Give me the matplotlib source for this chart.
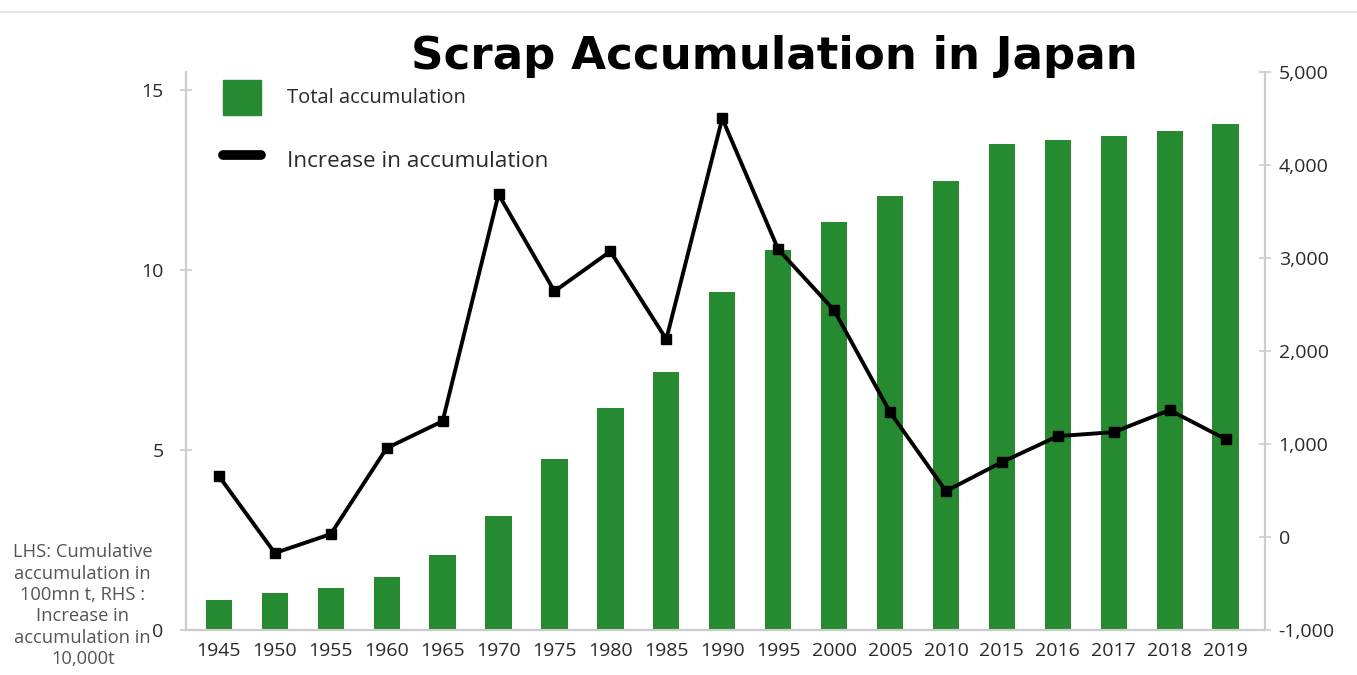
import matplotlib.pyplot as plt
import numpy as np
from matplotlib.lines import Line2D

# DATA
years = ["1945", "1950", "1955", "1960", "1965", "1970", "1975", "1980", "1985", "1990",
         "1995", "2000", "2005", "2010", "2015", "2016", "2017", "2018", "2019"]
total_accum = [0.83, 1.03, 1.17, 1.47, 2.08, 3.17, 4.75, 6.17, 7.17, 9.39,
               10.56, 11.33, 12.06, 12.47, 13.5, 13.61, 13.72, 13.86, 14.06]
increase_accum = [656, -172, 32, 957, 1247, 3688, 2645, 3075, 2129, 4505,
                  3097, 2441, 1344, 495, 806, 1086, 1129, 1366, 1054]
left_ticks = [0, 5, 10, 15]
right_ticks = [-1000, 0, 1000, 2000, 3000, 4000, 5000]

GREEN = "#268a30"
GRID = "#cccccc"
TXT = "#2a2a2a"
FONT = "Open Sans"

fig = plt.figure(figsize=(13.57, 6.75), dpi=100)
ax = fig.add_axes([0.137, 0.0667, 0.795, 0.826])
ax2 = ax.twinx()

x = np.arange(len(years))

#BARS ON LEFT AXIS
ax.bar(x, total_accum, width=0.47, color=GREEN, label="Total accumulation")
ax.set_ylim(0, 15.5)
ax.set_xlim(-0.59, len(years) - 0.3)
ax.set_yticks(left_ticks)
ax.set_yticklabels([str(t) for t in left_ticks])
ax.set_xticks(x)
ax.set_xticklabels(years)

#LINE ON RIGHT AXIS
ax2.plot(x, increase_accum, color="black", lw=2.8, marker="s", markersize=7,
         label="Increase in accumulation")
ax2.set_ylim(-1000, 5000)
ax2.set_yticks(right_ticks)
ax2.set_yticklabels([f"{t:,}" for t in right_ticks])

for a in (ax, ax2):
    for s in a.spines.values():
        s.set_color(GRID)
        s.set_linewidth(1.5)
    a.spines["top"].set_visible(False)
    a.tick_params(axis="y", direction="inout", length=8, color=GRID, width=1.2,
                  labelcolor=TXT, labelsize=14)
    for lab in a.get_yticklabels():
        lab.set_fontfamily(FONT)
ax.tick_params(axis="x", length=0, labelcolor=TXT, labelsize=14, pad=9)
for lab in ax.get_xticklabels():
    lab.set_fontfamily(FONT)
ax.tick_params(axis="y", pad=12)
ax2.tick_params(axis="y", pad=6)

#LEGEND
handles = [plt.Rectangle((0, 0), 1, 1, color=GREEN),
           Line2D([0], [0], color="black", lw=7, solid_capstyle="round")]
leg = ax.legend(handles, ["Total accumulation", "Increase in accumulation"],
                loc="upper left", bbox_to_anchor=(0.164, 0.882), bbox_transform=fig.transFigure,
                frameon=False, prop={"family": FONT, "size": 14.5},
                handlelength=1.9, handleheight=2.3, handletextpad=1.3,
                labelspacing=1.4, borderaxespad=0, borderpad=0)
leg.get_texts()[0].set_fontsize(14.5)
leg.get_texts()[1].set_fontsize(16.2)
for t in leg.get_texts():
    t.set_color(TXT)

#TITLE
fig.text(0.571, 0.917, "Scrap Accumulation in Japan", ha="center", va="center",
         fontsize=32.5, fontweight="bold", family="DejaVu Sans", color="black")

#TOP RULE
fig.add_artist(Line2D([0, 1], [0.982, 0.982], transform=fig.transFigure, color="#dddddd", lw=1.2))

#NOTE
fig.text(0.061, 0.195, "LHS: Cumulative\naccumulation in\n100mn t, RHS :\nIncrease in\naccumulation in\n10,000t",
         ha="center", va="top", fontsize=13.2, family=FONT, color="#555555", linespacing=1.24)

fig.savefig("out.png", dpi=100)
